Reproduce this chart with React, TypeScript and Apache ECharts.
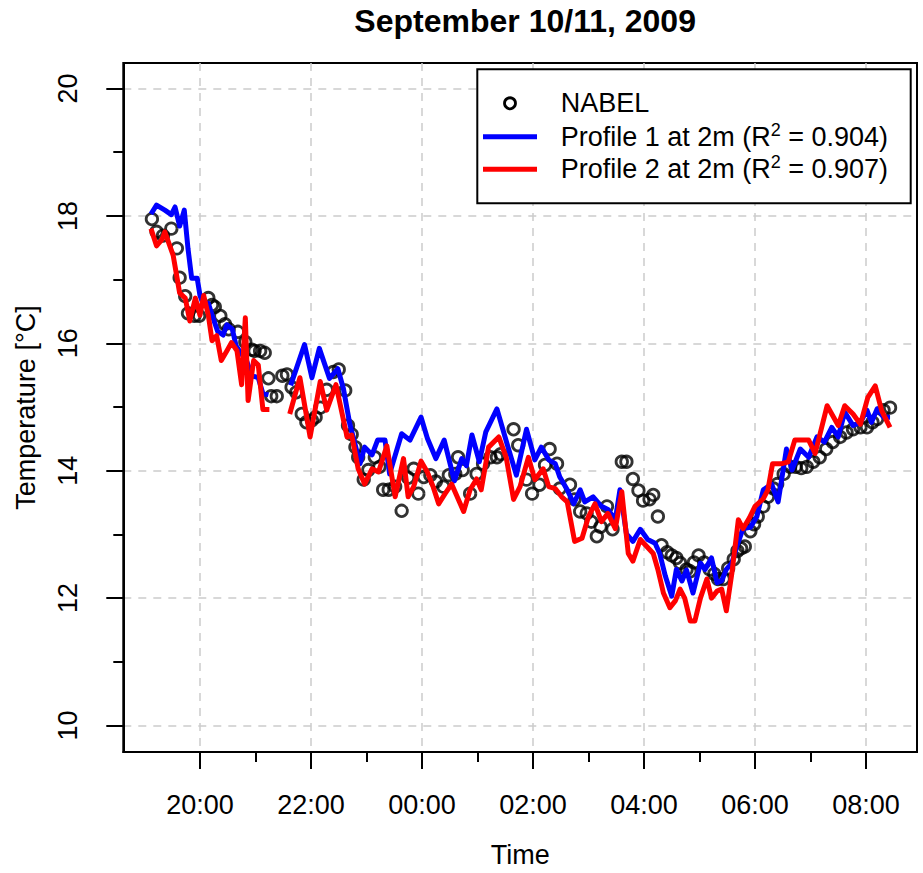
import React, { useEffect, useRef } from "react";
import * as echarts from "echarts";

const titleText = "September 10/11, 2009";
const xName = "Time";
const yName = "Temperature [°C]";
const xMajorTicks = [20, 22, 24, 26, 28, 30, 32];
const xMinorTicks = [21, 23, 25, 27, 29, 31];
const yMajorTicks = [10, 12, 14, 16, 18, 20];
const yMinorTicks = [11, 13, 15, 17, 19];
const seriesNames = ["NABEL", "Profile 1 at 2m", "Profile 2 at 2m"];
const rSquared = ["0.904", "0.907"];

// NABEL measurements [time, °C]
const nabel: [string, number][] = [
  ["19:08", 17.95], ["19:13", 17.75], ["19:20", 17.69], ["19:29", 17.8], ["19:35", 17.49],
  ["19:38", 17.03], ["19:44", 16.74], ["19:47", 16.47], ["19:54", 16.43], ["19:59", 16.43],
  ["20:09", 16.71], ["20:13", 16.6], ["20:16", 16.57], ["20:22", 16.43], ["20:27", 16.3],
  ["20:31", 16.22], ["20:41", 16.18], ["20:49", 16.02], ["20:56", 15.9], ["20:59", 15.88],
  ["21:05", 15.88], ["21:10", 15.85], ["21:14", 15.45], ["21:17", 15.17], ["21:23", 15.17],
  ["21:29", 15.49], ["21:34", 15.51], ["21:39", 15.31], ["21:44", 15.23], ["21:50", 14.89],
  ["21:55", 14.76], ["22:01", 14.79], ["22:05", 14.84], ["22:10", 14.99], ["22:17", 15.27],
  ["22:24", 15.55], ["22:30", 15.59], ["22:37", 15.26], ["22:40", 14.71], ["22:44", 14.57],
  ["22:48", 14.37], ["22:51", 14.21], ["22:57", 13.86], ["23:02", 14.01], ["23:09", 14.21],
  ["23:14", 14.06], ["23:18", 13.7], ["23:24", 13.7], ["23:31", 13.75], ["23:38", 13.37],
  ["23:45", 13.89], ["23:51", 14.03], ["23:56", 13.64], ["00:02", 13.9], ["00:09", 13.93],
  ["00:15", 13.83], ["00:23", 13.75], ["00:29", 13.93], ["00:36", 13.95], ["00:39", 14.21],
  ["00:44", 14.01], ["00:52", 13.64], ["00:59", 13.95], ["01:06", 14.11], ["01:14", 14.21],
  ["01:21", 14.21], ["01:25", 14.26], ["01:39", 14.65], ["01:44", 14.4], ["01:53", 13.86],
  ["01:59", 13.64], ["02:07", 13.78], ["02:13", 14.09], ["02:18", 14.34], ["02:26", 14.11],
  ["02:29", 13.72], ["02:40", 13.78], ["02:45", 13.55], ["02:51", 13.36], ["02:58", 13.33],
  ["03:03", 13.2], ["03:09", 12.97], ["03:13", 13.12], ["03:20", 13.44], ["03:26", 13.08],
  ["03:36", 14.14], ["03:41", 14.14], ["03:48", 13.87], ["03:54", 13.69], ["03:59", 13.53],
  ["04:06", 13.55], ["04:10", 13.62], ["04:15", 13.28], ["04:19", 12.83], ["04:25", 12.72],
  ["04:30", 12.67], ["04:35", 12.63], ["04:39", 12.55], ["04:46", 12.45], ["04:50", 12.42],
  ["04:54", 12.56], ["04:59", 12.67], ["05:05", 12.56], ["05:11", 12.45], ["05:16", 12.38],
  ["05:20", 12.3], ["05:26", 12.3], ["05:31", 12.47], ["05:37", 12.61], ["05:41", 12.74],
  ["05:45", 12.78], ["05:49", 12.81], ["05:55", 13.05], ["05:59", 13.16], ["06:03", 13.28],
  ["06:09", 13.44], ["06:14", 13.59], ["06:20", 13.72], ["06:24", 13.79], ["06:31", 13.95],
  ["06:38", 14.06], ["06:44", 14.06], ["06:50", 14.04], ["06:56", 14.06], ["07:03", 14.14],
  ["07:10", 14.21], ["07:17", 14.34], ["07:24", 14.45], ["07:32", 14.53], ["07:39", 14.6],
  ["07:46", 14.65], ["07:54", 14.68], ["08:01", 14.68], ["08:07", 14.76], ["08:12", 14.81],
  ["08:19", 14.95], ["08:26", 14.99],
];

// Profile 1 at 2m [time, °C] (null = missing)
const profile1: [string, number | null][] = [
  ["19:07", 18.03], ["19:13", 18.17], ["19:22", 18.09], ["19:29", 18.02], ["19:33", 18.14],
  ["19:38", 17.84], ["19:43", 18.09], ["19:47", 17.49], ["19:51", 17.02], ["19:57", 17.02],
  ["20:00", 16.75], ["20:03", 16.63], ["20:09", 16.63], ["20:14", 16.4], ["20:19", 16.19],
  ["20:25", 16.13], ["20:29", 16.29], ["20:35", 16.22], ["20:39", 15.96], ["20:44", 15.85],
  ["20:50", 15.74], ["20:56", 15.49], ["21:03", 15.46], ["21:08", 15.21], ["21:14", 15.19],
  ["21:25", null],
  ["21:38", 15.34], ["21:53", 15.98], ["22:01", 15.46], ["22:09", 15.92], ["22:20", 15.45],
  ["22:29", 15.6], ["22:35", 15.29], ["22:42", 14.73], ["22:53", 14.11], ["22:58", 14.37],
  ["23:06", 14.25], ["23:12", 14.48], ["23:20", 14.48], ["23:25", 13.95], ["23:38", 14.58],
  ["23:47", 14.48], ["23:59", 14.84], ["00:06", 14.5], ["00:15", 14.19], ["00:24", 14.48],
  ["00:35", 13.84], ["00:43", 14.19], ["00:48", 14.08], ["00:54", 14.56], ["01:02", 14.14],
  ["01:09", 14.61], ["01:21", 14.97], ["01:32", 14.42], ["01:42", 13.93], ["01:53", 14.65],
  ["02:02", 14.17], ["02:09", 14.37], ["02:17", 14.17], ["02:24", 14.11], ["02:29", 13.9],
  ["02:37", 13.7], ["02:44", 13.48], ["02:51", 13.7], ["02:56", 13.51], ["03:05", 13.59],
  ["03:14", 13.44], ["03:21", 13.39], ["03:29", 13.23], ["03:34", 13.7], ["03:41", 13.01],
  ["03:48", 12.89], ["03:56", 13.08], ["04:04", 12.92], ["04:12", 12.86], ["04:17", 12.7],
  ["04:23", 12.35], ["04:30", 12.03], ["04:35", 12.45], ["04:41", 12.27], ["04:46", 12.44],
  ["04:53", 12.08], ["05:01", 12.55], ["05:06", 12.45], ["05:13", 12.63], ["05:19", 12.24],
  ["05:24", 12.27], ["05:29", 12.45], ["05:35", 12.55], ["05:41", 12.84], ["05:47", 13.09],
  ["05:55", 13.11], ["06:02", 13.28], ["06:09", 13.7], ["06:18", 13.79], ["06:25", 13.51],
  ["06:34", 14.34], ["06:40", 14.01], ["06:49", 14.34], ["06:58", 14.21], ["07:07", 14.53],
  ["07:15", 14.45], ["07:23", 14.68], ["07:30", 14.53], ["07:37", 14.92], ["07:46", 14.71],
  ["07:54", 14.76], ["08:01", 14.95], ["08:06", 14.76], ["08:12", 14.97], ["08:19", 14.84],
  ["08:26", 14.84],
];

// Profile 2 at 2m [time, °C] (null = missing)
const profile2: [string, number | null][] = [
  ["19:07", 17.8], ["19:13", 17.53], ["19:19", 17.63], ["19:22", 17.75], ["19:31", 17.38],
  ["19:38", 16.79], ["19:44", 16.71], ["19:49", 16.35], ["19:55", 16.71], ["20:00", 16.44],
  ["20:04", 16.75], ["20:09", 16.44], ["20:13", 16.04], ["20:18", 16.12], ["20:23", 15.73],
  ["20:29", 15.88], ["20:34", 16.01], ["20:40", 15.88], ["20:45", 15.35], ["20:49", 16.4],
  ["20:52", 15.1], ["20:58", 15.73], ["21:03", 15.66], ["21:08", 14.96], ["21:15", 14.96],
  ["21:25", null],
  ["21:37", 14.89], ["21:48", 15.46], ["21:59", 14.53], ["22:10", 15.4], ["22:17", 14.95],
  ["22:27", 15.35], ["22:39", 14.53], ["22:44", 14.56], ["22:51", 14.03], ["22:58", 13.79],
  ["23:06", 14.03], ["23:13", 13.98], ["23:22", 14.39], ["23:31", 13.59], ["23:40", 14.19],
  ["23:45", 13.59], ["23:51", 13.75], ["23:59", 14.15], ["00:06", 13.97], ["00:12", 13.75],
  ["00:18", 13.48], ["00:25", 13.64], ["00:32", 13.79], ["00:45", 13.36], ["00:52", 13.7],
  ["00:59", 13.87], ["01:04", 13.7], ["01:12", 14.37], ["01:23", 14.53], ["01:31", 14.21],
  ["01:39", 13.55], ["01:46", 13.75], ["01:55", 14.21], ["02:02", 13.86], ["02:11", 14.03],
  ["02:17", 13.75], ["02:24", 13.72], ["02:31", 13.59], ["02:37", 13.51], ["02:45", 12.89],
  ["02:53", 12.94], ["03:00", 13.28], ["03:07", 13.48], ["03:14", 13.2], ["03:21", 13.33],
  ["03:29", 13.09], ["03:36", 13.67], ["03:43", 12.7], ["03:48", 12.58], ["03:56", 12.92],
  ["04:03", 12.81], ["04:10", 12.7], ["04:15", 12.45], ["04:21", 12.08], ["04:28", 11.85],
  ["04:34", 11.96], ["04:39", 12.14], ["04:44", 12.0], ["04:50", 11.64], ["04:55", 11.64],
  ["05:01", 12.0], ["05:08", 12.3], ["05:13", 12.0], ["05:19", 12.11], ["05:24", 12.14],
  ["05:29", 11.8], ["05:35", 12.39], ["05:42", 13.23], ["05:47", 13.09], ["05:54", 13.26],
  ["06:00", 13.44], ["06:09", 13.56], ["06:14", 13.7], ["06:19", 14.11], ["06:29", 14.11],
  ["06:36", 14.14], ["06:43", 14.48], ["06:58", 14.48], ["07:05", 14.27], ["07:18", 15.02],
  ["07:30", 14.71], ["07:37", 15.02], ["07:46", 14.89], ["07:54", 14.73], ["08:02", 15.15],
  ["08:10", 15.33], ["08:17", 14.94], ["08:26", 14.68],
];

const FONT = "'Liberation Sans', Arial, Helvetica, sans-serif";
const BASE = 27;

function toHours(t: string): number {
  const [h, m] = t.split(":").map(Number);
  let v = h + m / 60;
  if (v < 12) v += 24;
  return v;
}

function toPoints(arr: [string, number | null][]) {
  return arr.map(([t, v]) => [toHours(t), v === null ? "-" : v]);
}

export default function App() {
  const ref = useRef<HTMLDivElement>(null);

  useEffect(() => {
    if (!ref.current) return;
    const chart = echarts.init(ref.current, undefined, { renderer: "svg" });

    const gridLeft = 123.3;
    const gridTop = 63;
    const gridW = 793.7;
    const gridH = 694;
    const xMin = 18.618;
    const xMax = 32.919;
    const yMin = 9.584;
    const yMax = 20.4;

    const tickStyle = { color: "#000", width: 2 };
    const gridLine = { color: "#cccccc", width: 1.5, type: [8, 7] as any };

    const richText = (name: string, r2: string) =>
      `{a|${name} (R}{s|2}{a| = ${r2})}`;
    const rich = {
      a: { fontSize: BASE, fontFamily: FONT, color: "#000", lineHeight: 32, verticalAlign: "middle" },
      s: { fontSize: 18, fontFamily: FONT, color: "#000", lineHeight: 20, verticalAlign: "top" },
    };

    const legendX = 477.3;
    const legendY = 69.3;
    const textX = 560.7;
    const rowY = [103.3, 136.7, 169.3];

    chart.setOption({
      animation: false,
      backgroundColor: "#fff",
      title: {
        text: titleText,
        left: gridLeft + gridW / 2,
        top: 0,
        textAlign: "center",
        textStyle: { fontFamily: FONT, fontSize: 32, fontWeight: "bold", color: "#000" },
      },
      grid: {
        left: gridLeft,
        top: gridTop,
        width: gridW,
        height: gridH,
        show: true,
        borderColor: "#000",
        borderWidth: 2,
        backgroundColor: "transparent",
      },
      xAxis: [
        {
          type: "value",
          min: xMin,
          max: xMax,
          position: "bottom",
          name: xName,
          nameLocation: "middle",
          nameGap: 89,
          nameTextStyle: { fontFamily: FONT, fontSize: BASE, color: "#000" },
          axisLine: { show: true, onZero: false, lineStyle: tickStyle },
          axisTick: { show: true, length: 17, lineStyle: tickStyle, customValues: xMajorTicks },
          axisLabel: {
            customValues: xMajorTicks,
            margin: 39,
            fontFamily: FONT,
            fontSize: BASE,
            color: "#000",
            formatter: (v: number) => String(Math.round(v) % 24).padStart(2, "0") + ":00",
          },
          splitLine: { show: true, lineStyle: gridLine },
        },
        {
          type: "value",
          min: xMin,
          max: xMax,
          position: "bottom",
          axisLine: { show: false, onZero: false },
          axisTick: { show: true, length: 10, lineStyle: tickStyle, customValues: xMinorTicks },
          axisLabel: { show: false },
          splitLine: { show: false },
        },
      ],
      yAxis: [
        {
          type: "value",
          min: yMin,
          max: yMax,
          position: "left",
          name: yName,
          nameLocation: "middle",
          nameGap: 84,
          nameTextStyle: { fontFamily: FONT, fontSize: BASE, color: "#000" },
          axisLine: { show: true, onZero: false, lineStyle: tickStyle },
          axisTick: { show: true, length: 17, lineStyle: tickStyle, customValues: yMajorTicks },
          axisLabel: {
            customValues: yMajorTicks,
            rotate: 90,
            margin: 42,
            fontFamily: FONT,
            fontSize: BASE,
            color: "#000",
            formatter: (v: number) => String(Math.round(v)),
          },
          splitLine: { show: true, lineStyle: gridLine },
        },
        {
          type: "value",
          min: yMin,
          max: yMax,
          position: "left",
          axisLine: { show: false, onZero: false },
          axisTick: { show: true, length: 10, lineStyle: tickStyle, customValues: yMinorTicks },
          axisLabel: { show: false },
          splitLine: { show: false },
        },
      ],
      series: [
        {
          name: seriesNames[0],
          type: "scatter",
          xAxisIndex: 0,
          yAxisIndex: 0,
          data: nabel.map(([t, v]) => [toHours(t), v]),
          symbol: "circle",
          symbolSize: 11.5,
          itemStyle: { color: "rgba(0,0,0,0)", borderColor: "#000", borderWidth: 2.8 },
          z: 2,
        },
        {
          name: seriesNames[1],
          type: "line",
          xAxisIndex: 0,
          yAxisIndex: 0,
          data: toPoints(profile1),
          showSymbol: false,
          connectNulls: false,
          lineStyle: { color: "#0000ff", width: 5, join: "round" },
          itemStyle: { color: "#0000ff" },
          z: 3,
        },
        {
          name: seriesNames[2],
          type: "line",
          xAxisIndex: 0,
          yAxisIndex: 0,
          data: toPoints(profile2),
          showSymbol: false,
          connectNulls: false,
          lineStyle: { color: "#ff0000", width: 5, join: "round" },
          itemStyle: { color: "#ff0000" },
          z: 4,
        },
      ],
      graphic: [
        {
          type: "rect",
          z: 100,
          shape: { x: legendX, y: legendY, width: 433.4, height: 134 },
          style: { fill: "#fff", stroke: "#000", lineWidth: 2 },
        },
        {
          type: "circle",
          z: 101,
          shape: { cx: 510, cy: rowY[0], r: 5.5 },
          style: { fill: "none", stroke: "#000", lineWidth: 2.8 },
        },
        {
          type: "line",
          z: 101,
          shape: { x1: 483, y1: rowY[1], x2: 537, y2: rowY[1] },
          style: { stroke: "#0000ff", lineWidth: 5 },
        },
        {
          type: "line",
          z: 101,
          shape: { x1: 483, y1: rowY[2], x2: 537, y2: rowY[2] },
          style: { stroke: "#ff0000", lineWidth: 5 },
        },
        {
          type: "text",
          z: 101,
          x: textX,
          y: rowY[0],
          style: {
            text: seriesNames[0],
            fontFamily: FONT,
            fontSize: BASE,
            fill: "#000",
            verticalAlign: "middle",
            align: "left",
          },
        },
        {
          type: "text",
          z: 101,
          x: textX,
          y: rowY[1],
          style: { text: richText(seriesNames[1], rSquared[0]), rich, verticalAlign: "middle", align: "left" },
        },
        {
          type: "text",
          z: 101,
          x: textX,
          y: rowY[2],
          style: { text: richText(seriesNames[2], rSquared[1]), rich, verticalAlign: "middle", align: "left" },
        },
      ],
    });

    return () => chart.dispose();
  }, []);

  return (
    <div
      ref={ref}
      style={{ position: "absolute", left: 0, top: 0, width: 923, height: 873 }}
    />
  );
}
